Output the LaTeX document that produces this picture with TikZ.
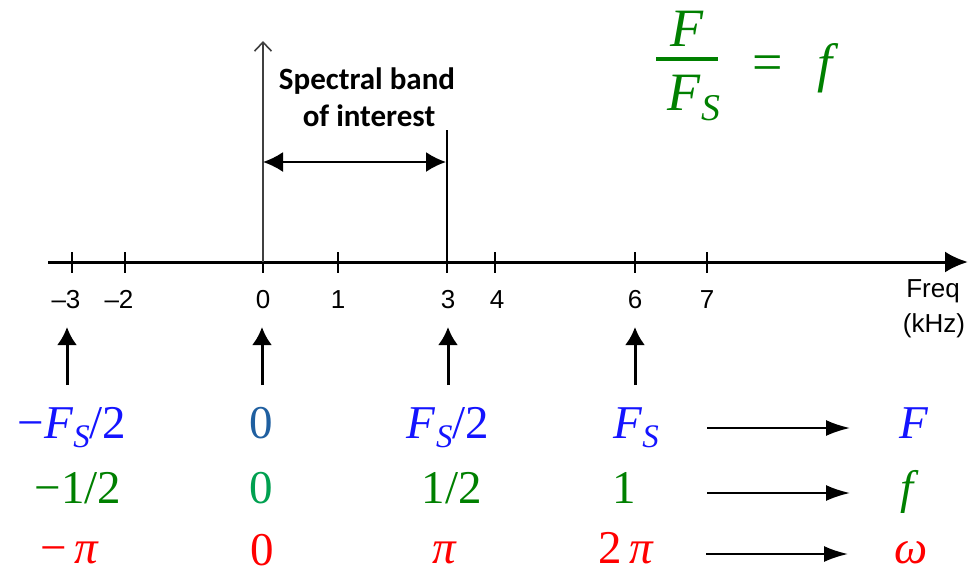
\documentclass[tikz,border=0pt]{standalone}
\usepackage{fontspec}
\setmainfont{Liberation Serif}
\newfontfamily\axisfont{Liberation Sans}
\newfontfamily\bandfont{Carlito}
\usetikzlibrary{arrows.meta}
\definecolor{fblue}{RGB}{20,20,255}
\definecolor{fgreen}{RGB}{0,128,0}
\definecolor{fred}{RGB}{255,0,0}
\definecolor{zblue}{RGB}{31,95,160}
\definecolor{zgreen}{RGB}{0,160,80}
\newcommand{\Fsub}{\textit{F}\raisebox{-0.2em}{\scalebox{0.7}{\textit{S}}}}
\begin{document}
\begin{tikzpicture}[x=1pt, y=-1pt,
    tick/.style={font=\axisfont\fontsize{26}{26}\selectfont, anchor=base, inner sep=0pt},
    val/.style={font=\fontsize{47}{47}\selectfont, anchor=base, inner sep=0pt},
    uparrow/.style={line width=3pt, -{Latex[length=18pt,width=20pt]}},
    maparrow/.style={line width=2pt, -{Latex[length=24pt,width=16pt]}}]
    \useasboundingbox (0,0) rectangle (970,574);

    % Frequency axis
    \coordinate (ax0) at (48,262);
    \coordinate (ax1) at (968,262);
    \draw[line width=3pt, -{Latex[length=23pt,width=21pt]}] (ax0) -- (ax1);
    \foreach \x/\lx/\lab/\nm in {72/66/–3/tm3, 125/119/–2/tm2, 263/263/0/t0, 338/338/1/t1,
                                447/448/3/t3, 495/497/4/t4, 635/635/6/t6, 707/707/7/t7} {
        \draw[line width=2pt] (\x,252) -- (\x,273);
        \node[tick] (\nm) at (\lx,308) {\lab};
    }
    \node[tick] (freq) at (933,297) {Freq};
    \node[tick] (khz) at (934,332) {(kHz)};

    % Vertical axis and band of interest
    \coordinate (org) at (263,262);
    \coordinate (vtop) at (263,41);
    \draw[line width=1.6pt, black!75, -{Straight Barb[length=9pt,width=17pt]}] (org) -- (vtop);
    \coordinate (b0) at (263,162);
    \coordinate (b1) at (446,162);
    \draw[line width=2pt, {Latex[length=20pt,width=20pt]}-{Latex[length=20pt,width=20pt]}] (b0) -- (b1);
    \coordinate (bt) at (447,130);
    \coordinate (bb) at (447,262);
    \draw[line width=2pt] (bt) -- (bb);
    \node[font=\bandfont\bfseries\fontsize{31}{31}\selectfont, anchor=base, inner sep=0pt] (bandA) at (367,89) {Spectral band};
    \node[font=\bandfont\bfseries\fontsize{31}{31}\selectfont, anchor=base, inner sep=0pt] (bandB) at (369,126) {of interest};

    % Normalized frequency
    \begin{scope}[fgreen, font=\fontsize{54}{54}\selectfont]
        \node[anchor=base, inner sep=0pt] (num) at (687,46) {\textit{F}};
        \node[anchor=base, inner sep=0pt] (den) at (694,110) {\Fsub};
        \coordinate (bar0) at (656,59);
        \coordinate (bar1) at (718,59);
        \draw[fgreen, line width=4pt] (bar0) -- (bar1);
        \node[anchor=base, inner sep=0pt] (eq) at (768,80) {=};
        \node[anchor=base, inner sep=0pt] (fsym0) at (828,81) {\textit{f}};
    \end{scope}

    % Markers under the axis
    \foreach \x/\nm in {67/u1, 262/u2, 448/u3, 635/u4} {
        \coordinate (\nm a) at (\x,385);
        \coordinate (\nm b) at (\x,327);
        \draw[uparrow] (\nm a) -- (\nm b);
    }

    % Row F
    \node[val, fblue] (Fneg) at (72,438) {−\Fsub/2};
    \node[val, zblue] (Fzero) at (261,438) {0};
    \node[val, fblue] (Fhalf) at (448,438) {\Fsub/2};
    \node[val, fblue] (Fone) at (636,438) {\Fsub};
    \node[val, fblue] (Fsym) at (914,438) {\textit{F}};
    \coordinate (ma1) at (707,428);
    \coordinate (mb1) at (850,428);
    \draw[maparrow] (ma1) -- (mb1);

    % Row f
    \node[val, fgreen] (fneg) at (78,503) {−1/2};
    \node[val, zgreen] (fzero) at (261,503) {0};
    \node[val, fgreen] (fhalf) at (452,503) {1/2};
    \node[val, fgreen] (fone) at (624,503) {1};
    \node[val, fgreen] (fsym) at (910,503) {\textit{f}};
    \coordinate (ma2) at (707,493);
    \coordinate (mb2) at (850,493);
    \draw[maparrow] (ma2) -- (mb2);

    % Row omega
    \node[val, fred] (wneg) at (70,563) {−\,\textit{π}};
    \node[val, fred] (wzero) at (262,565) {0};
    \node[val, fred] (whalf) at (445,563) {\textit{π}};
    \node[val, fred] (wone) at (626,563) {2\,\textit{π}};
    \node[val, fred] (wsym) at (911,563) {\textit{ω}};
    \coordinate (ma3) at (706,554);
    \coordinate (mb3) at (848,554);
    \draw[maparrow] (ma3) -- (mb3);
\end{tikzpicture}
\end{document}
